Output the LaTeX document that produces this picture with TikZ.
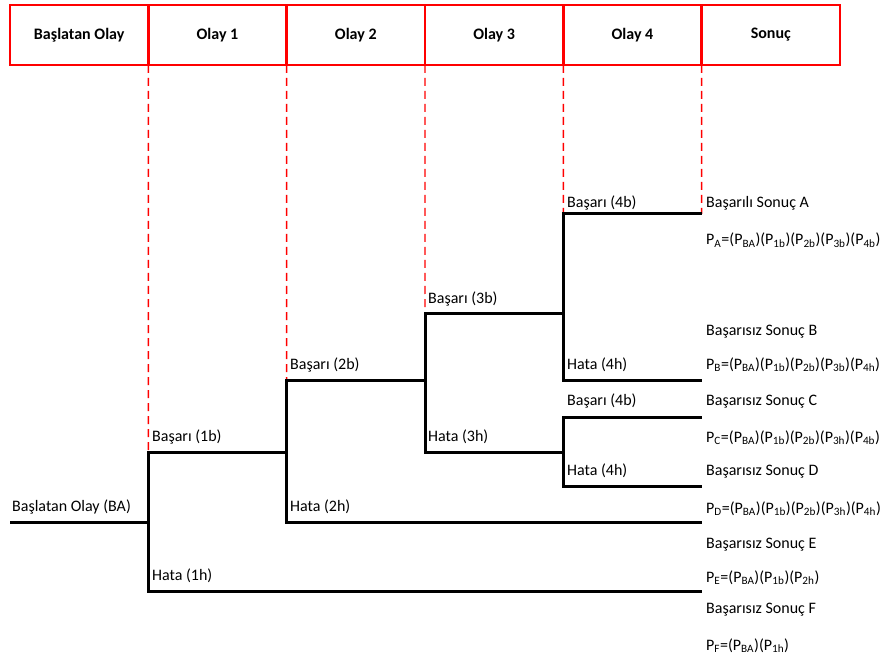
\documentclass[tikz,border=0pt]{standalone}
\usepackage{fontspec}
\setmainfont{Carlito}
\usepackage{xcolor}
\usepackage{tikz}
\usetikzlibrary{positioning}

\newcommand{\psb}[1]{P\textsubscript{#1}}

\tikzset{
    cell/.style={draw=red, line width=2.6pt, outer sep=0pt, inner sep=0pt,
        minimum width=138.33pt, minimum height=60pt,
        font=\fontsize{16}{18}\selectfont\bfseries},
    tree/.style={line width=3pt, line join=miter},
    guide/.style={red, line width=1.4pt, dash pattern=on 8pt off 5pt},
    lbl/.style={anchor=base west, inner sep=0pt, font=\fontsize{16}{18}\selectfont}
}

\begin{document}
\begin{tikzpicture}[x=1pt, y=-1pt]
    \useasboundingbox (0,0) rectangle (883,660);

    % Header
    \node[cell, anchor=north west] (h0) at (10,5) {Başlatan Olay};
    \node[cell, right=0pt of h0] (h1) {Olay 1};
    \node[cell, right=0pt of h1] (h2) {Olay 2};
    \node[cell, right=0pt of h2] (h3) {Olay 3};
    \node[cell, right=0pt of h3] (h4) {Olay 4};
    \node[cell, right=0pt of h4] (h5) {Sonuç};

    % Branch points
    \coordinate (ba) at (10,522);
    \coordinate (s1) at (148.33,522);
    \coordinate (e1b) at (148.33,452);
    \coordinate (e1h) at (148.33,591);
    \coordinate (r1h) at (701.67,591);
    \coordinate (c1b) at (286.67,452);
    \coordinate (e2b) at (286.67,380);
    \coordinate (e2h) at (286.67,522);
    \coordinate (r2h) at (701.67,522);
    \coordinate (c2b) at (425,380);
    \coordinate (e3b) at (425,313);
    \coordinate (e3h) at (425,452);
    \coordinate (c3b) at (563.33,313);
    \coordinate (c3h) at (563.33,452);
    \coordinate (e4b) at (563.33,214);
    \coordinate (e4h) at (563.33,380);
    \coordinate (r4b) at (701.67,214);
    \coordinate (r4h) at (701.67,380);
    \coordinate (f4b) at (563.33,417);
    \coordinate (f4h) at (563.33,486);
    \coordinate (q4b) at (701.67,417);
    \coordinate (q4h) at (701.67,486);

    % Dashed guides
    \draw[guide] (h0.south east) -- (e1b);
    \draw[guide] (h1.south east) -- (e2b);
    \draw[guide] (h2.south east) -- (e3b);
    \draw[guide] (h3.south east) -- (e4b);
    \draw[guide] (h4.south east) -- (r4b);

    % Tree
    \draw[tree] (ba) -- (s1);
    \draw[tree] (c1b) -- (e1b) -- (e1h) -- (r1h);
    \draw[tree] (c2b) -- (e2b) -- (e2h) -- (r2h);
    \draw[tree] (c3b) -- (e3b) -- (e3h) -- (c3h);
    \draw[tree] (r4b) -- (e4b) -- (e4h) -- (r4h);
    \draw[tree] (q4b) -- (f4b) -- (f4h) -- (q4h);

    % Branch labels
    \node[lbl] (lba) at (12,511) {Başlatan Olay (BA)};
    \node[lbl] (l1b) at (152,441) {Başarı (1b)};
    \node[lbl] (l1h) at (152,580) {Hata (1h)};
    \node[lbl] (l2b) at (290,369) {Başarı (2b)};
    \node[lbl] (l2h) at (290,511) {Hata (2h)};
    \node[lbl] (l3b) at (428,303) {Başarı (3b)};
    \node[lbl] (l3h) at (428,441) {Hata (3h)};
    \node[lbl] (l4b) at (567,208) {Başarı (4b)};
    \node[lbl] (l4h) at (567,369) {Hata (4h)};
    \node[lbl] (m4b) at (567,405) {Başarı (4b)};
    \node[lbl] (m4h) at (567,475) {Hata (4h)};

    % Outcomes
    \node[lbl] (oa) at (706,208) {Başarılı Sonuç A};
    \node[lbl] (pa) at (706,245) {\psb{A}=(\psb{BA})(\psb{1b})(\psb{2b})(\psb{3b})(\psb{4b})};
    \node[lbl] (ob) at (706,335) {Başarısız Sonuç B};
    \node[lbl] (pb) at (706,369) {\psb{B}=(\psb{BA})(\psb{1b})(\psb{2b})(\psb{3b})(\psb{4h})};
    \node[lbl] (oc) at (706,405) {Başarısız Sonuç C};
    \node[lbl] (pc) at (706,442) {\psb{C}=(\psb{BA})(\psb{1b})(\psb{2b})(\psb{3h})(\psb{4b})};
    \node[lbl] (od) at (706,475) {Başarısız Sonuç D};
    \node[lbl] (pd) at (706,513) {\psb{D}=(\psb{BA})(\psb{1b})(\psb{2b})(\psb{3h})(\psb{4h})};
    \node[lbl] (oe) at (706,548) {Başarısız Sonuç E};
    \node[lbl] (pe) at (706,582) {\psb{E}=(\psb{BA})(\psb{1b})(\psb{2h})};
    \node[lbl] (of) at (706,613) {Başarısız Sonuç F};
    \node[lbl] (pf) at (706,650) {\psb{F}=(\psb{BA})(\psb{1h})};
\end{tikzpicture}
\end{document}
